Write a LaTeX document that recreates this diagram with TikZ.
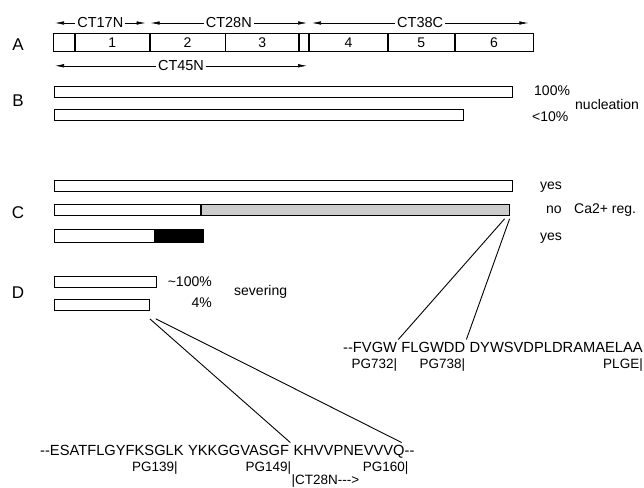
\documentclass[tikz,border=0pt]{standalone}
\usepackage{fontspec}
\setmainfont{Liberation Sans}
\usetikzlibrary{positioning,arrows.meta}

\begin{document}
\begin{tikzpicture}[
    x=1pt, y=-1pt,
    cell/.style={draw, line width=0.8pt, minimum height=18pt, inner sep=0pt, anchor=north west, font=\fontsize{14}{16}\selectfont},
    bar/.style={draw, line width=0.8pt, minimum height=11pt, inner sep=0pt, anchor=north west},
    dim/.style={arrows={Latex[length=9pt,width=3.5pt]-Latex[length=9pt,width=3.5pt]}, line width=0.6pt},
    dimlbl/.style={fill=white, inner sep=2pt, font=\fontsize{14.5}{16}\selectfont},
    panel/.style={font=\fontsize{17}{19}\selectfont},
    res/.style={font=\fontsize{14}{16}\selectfont, anchor=west, inner sep=0pt},
    seq/.style={font=\fontsize{14.7}{17}\selectfont, inner sep=0pt, anchor=base west},
    pg/.style={font=\fontsize{13.5}{16}\selectfont, inner sep=0pt, anchor=base east},
    link/.style={line width=0.9pt}
]
\useasboundingbox (0,0) rectangle (644,487);

% A: domain map
\node [panel] (lA) at (18,45) {A};
\node [cell, minimum width=21pt] (c0) at (53,33) {};
\node [cell, minimum width=74pt, right=0pt of c0] (c1) {1};
\node [cell, minimum width=75pt, right=0pt of c1] (c2) {2};
\node [cell, minimum width=73pt, right=0pt of c2] (c3) {3};
\node [cell, minimum width=9pt, right=0pt of c3] (cd) {};
\node [cell, minimum width=78pt, right=0pt of cd] (c4) {4};
\node [cell, minimum width=66pt, right=0pt of c4] (c5) {5};
\node [cell, minimum width=78pt, right=0pt of c5] (c6) {6};

\draw [dim] ([xshift=2pt,yshift=10pt]c0.north west) -- node [dimlbl] {CT17N} ([xshift=-4pt,yshift=10pt]c1.north east);
\draw [dim] ([xshift=1pt,yshift=10pt]c2.north west) -- node [dimlbl] {CT28N} ([xshift=-2pt,yshift=10pt]cd.north east);
\draw [dim] ([xshift=3pt,yshift=10pt]c4.north west) -- node [dimlbl] {CT38C} ([xshift=-5pt,yshift=10pt]c6.north east);
\draw [dim] ([xshift=2pt,yshift=-14pt]c0.south west) -- node [dimlbl] {CT45N} ([xshift=-2pt,yshift=-14pt]cd.south east);

% B: nucleation
\node [panel] (lB) at (18,101) {B};
\node [bar, minimum width=458pt] (b1) at (54,86) {};
\node [bar, minimum width=409pt] (b2) at (54,109) {};
\node [res] (b1r) at (534,91) {100\%};
\node [res] (b2r) at (532,117) {<10\%};
\node [res] (bnuc) at (575,104) {nucleation};

% C: Ca2+ regulation
\node [panel] (lC) at (18,213) {C};
\node [bar, minimum width=458pt] (k1) at (54,180) {};
\node [bar, minimum width=146pt] (k2) at (54,204) {};
\node [bar, minimum width=308pt, fill=gray!40, right=0pt of k2] (k2g) {};
\node [bar, minimum width=100pt, minimum height=13pt] (k3) at (54,229) {};
\node [bar, minimum width=48pt, minimum height=13pt, fill=black, right=0pt of k3] (k3b) {};
\node [res] (k1r) at (540,187) {yes};
\node [res] (k2r) at (546,210) {no};
\node [res] (kca) at (574,210) {Ca2+ reg.};
\node [res] (k3r) at (540,238) {yes};

% D: severing
\node [panel] (lD) at (18,293) {D};
\node [bar, minimum width=102pt] (d1) at (54,276) {};
\node [bar, minimum width=95pt] (d2) at (54,299) {};
\node [res, anchor=east] (d1r) at (212,282) {\textasciitilde100\%};
\node [res, anchor=east] (d2r) at (212,303) {4\%};
\node [res] (dsev) at (234,292) {severing};

% upper sequence
\node [seq] (s1) at (343,352) {-{}-FVGW};
\node [seq, base right=4pt of s1] (s2) {FLGWDD};
\node [seq, base right=4pt of s2] (s3) {DYWSVDPLDRAMAELAA};
\node [pg] (p732) at ([yshift=-16pt]s1.base east) {PG732|};
\node [pg] (p738) at ([yshift=-16pt]s2.base east) {PG738|};
\node [pg] (plge) at ([yshift=-16pt]s3.base east) {PLGE|};

% lower sequence
\node [seq] (t1) at (40,455) {-{}-ESATFLGYFKSGLK};
\node [seq, base right=4pt of t1] (t2) {YKKGGVASGF};
\node [seq, base right=4pt of t2] (t3) {KHVVPNEVVVQ-{}-};
\node [pg] (p139) at ([xshift=-6pt,yshift=-16pt]t1.base east) {PG139|};
\node [pg] (p149) at ([xshift=2pt,yshift=-16pt]t2.base east) {PG149|};
\node [pg] (p160) at ([xshift=-6pt,yshift=-16pt]t3.base east) {PG160|};
\node [pg, anchor=base west] (ct28) at ([xshift=2pt,yshift=-29pt]t2.base east) {|CT28N-{}-{}->};

% connecting lines
\coordinate (kA) at ([xshift=-5pt,yshift=-3pt]k2g.south east);
\coordinate (kB) at ([xshift=0pt,yshift=-3pt]k2g.south east);
\draw [link] (kA) -- ([xshift=1pt,yshift=2pt]s1.north east);
\draw [link] (kB) -- ([xshift=1pt,yshift=2pt]s2.north east);
\coordinate (dA) at ([xshift=0pt,yshift=-8pt]d2.south east);
\coordinate (dB) at ([xshift=6pt,yshift=-8pt]d2.south east);
\draw [link] (dA) -- ([xshift=1pt,yshift=2pt]t2.north east);
\draw [link] (dB) -- ([xshift=-13pt,yshift=2pt]t3.north east);
\end{tikzpicture}
\end{document}
